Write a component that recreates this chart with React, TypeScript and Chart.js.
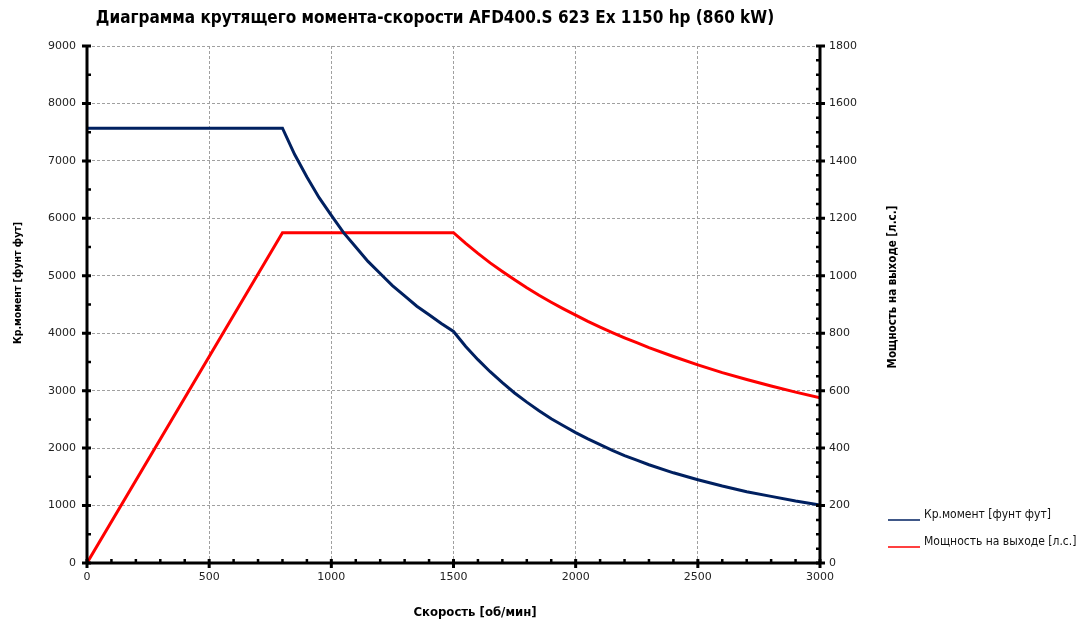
import { useEffect, useRef } from 'react';
import { Chart, registerables } from 'chart.js';

Chart.register(...registerables);

// speed points [rpm]
const speedRpm = [
  0, 800, 850, 900, 950, 1000, 1050, 1100, 1150, 1200, 1250, 1300, 1350, 1400, 1450, 1500,
  1550, 1600, 1650, 1700, 1750, 1800, 1850, 1900, 1950, 2000, 2050, 2100, 2150, 2200, 2250, 2300,
  2400, 2500, 2600, 2700, 2800, 2900, 3000,
];
// torque [lb-ft], left axis
const torqueLbFt = [
  7570, 7570, 7110, 6720, 6360, 6050, 5750, 5500, 5250, 5040, 4830, 4650, 4470, 4320, 4170, 4030,
  3770, 3540, 3330, 3140, 2960, 2800, 2650, 2510, 2390, 2270, 2160, 2060, 1960, 1870, 1790, 1710,
  1570, 1450, 1340, 1240, 1160, 1080, 1010,
];
// output power [hp], right axis
const powerHp = [
  0, 1150, 1150, 1150, 1150, 1150, 1150, 1150, 1150, 1150, 1150, 1150, 1150, 1150, 1150, 1150,
  1113, 1078, 1045, 1015, 986, 958, 932, 908, 885, 863, 841, 821, 802, 784, 767, 750,
  719, 690, 663, 639, 616, 595, 575,
];

const seriesNames = ['Кр.момент [фунт фут]', 'Мощность на выходе [л.с.]'];
const seriesColors = ['#002060', '#ff0000'];

const chartTitle = 'Диаграмма крутящего момента-скорости AFD400.S 623 Ex 1150 hp (860 kW)';
const xTitle = 'Скорость [об/мин]';

const NARROW = "'Liberation Sans Narrow', 'DejaVu Sans Condensed', sans-serif";
const TICK_FONT = { family: "'DejaVu Sans', sans-serif", size: 11 };

const decorPlugin = {
  id: 'decor',
  afterDraw(chart: any) {
    const { ctx, chartArea: a, scales } = chart;
    const x = scales.x, y = scales.y, y1 = scales.y1;
    ctx.save();
    ctx.strokeStyle = '#000';
    ctx.lineCap = 'butt';

    // axis lines
    ctx.lineWidth = 3;
    ctx.beginPath();
    ctx.moveTo(a.left, a.top - 1); ctx.lineTo(a.left, a.bottom + 1);
    ctx.moveTo(a.right, a.top - 1); ctx.lineTo(a.right, a.bottom + 1);
    ctx.moveTo(a.left - 1, a.bottom); ctx.lineTo(a.right + 1, a.bottom);
    ctx.stroke();

    // major ticks (crossing)
    ctx.beginPath();
    for (let v = 0; v <= 9000; v += 1000) {
      const p = y.getPixelForValue(v);
      ctx.moveTo(a.left - 5, p); ctx.lineTo(a.left + 4, p);
    }
    for (let v = 0; v <= 1800; v += 200) {
      const p = y1.getPixelForValue(v);
      ctx.moveTo(a.right - 4, p); ctx.lineTo(a.right + 5, p);
    }
    for (let v = 0; v <= 3000; v += 500) {
      const p = x.getPixelForValue(v);
      ctx.moveTo(p, a.bottom - 4); ctx.lineTo(p, a.bottom + 5);
    }
    ctx.stroke();

    // minor ticks (inward)
    ctx.lineWidth = 2.5;
    ctx.beginPath();
    for (let v = 500; v < 9000; v += 1000) {
      const p = y.getPixelForValue(v);
      ctx.moveTo(a.left, p); ctx.lineTo(a.left + 4, p);
    }
    for (let v = 50; v < 1800; v += 50) {
      if (v % 200 === 0) continue;
      const p = y1.getPixelForValue(v);
      ctx.moveTo(a.right - 4, p); ctx.lineTo(a.right, p);
    }
    for (let v = 100; v < 3000; v += 100) {
      if (v % 500 === 0) continue;
      const p = x.getPixelForValue(v);
      ctx.moveTo(p, a.bottom - 4); ctx.lineTo(p, a.bottom);
    }
    ctx.stroke();

    // title
    ctx.fillStyle = '#000';
    ctx.textAlign = 'center';
    ctx.textBaseline = 'middle';
    ctx.font = `bold 17px ${NARROW}`;
    ctx.fillText(chartTitle, 435, 19);

    // axis titles
    ctx.font = `bold 13px ${NARROW}`;
    ctx.fillText(xTitle, 475, 613);
    ctx.save();
    ctx.translate(18, 283);
    ctx.rotate(-Math.PI / 2);
    ctx.font = `bold 10.5px ${NARROW}`;
    ctx.fillText(seriesNames[0], 0, 0);
    ctx.restore();
    ctx.save();
    ctx.translate(893, 287);
    ctx.rotate(-Math.PI / 2);
    ctx.font = `bold 11.5px ${NARROW}`;
    ctx.fillText(seriesNames[1], 0, 0);
    ctx.restore();

    // legend
    ctx.textAlign = 'left';
    ctx.font = `12px ${NARROW}`;
    seriesNames.forEach((name, i) => {
      const ly = 520 + i * 27;
      ctx.strokeStyle = seriesColors[i];
      ctx.lineWidth = 1.5;
      ctx.beginPath();
      ctx.moveTo(888, ly); ctx.lineTo(920, ly);
      ctx.stroke();
      ctx.fillStyle = '#111';
      ctx.fillText(name, 924, ly - 5);
    });

    ctx.restore();
  },
};

const plainTick = (v: any) => String(v);

export default function App() {
  const chartRef = useRef<HTMLCanvasElement | null>(null);

  useEffect(() => {
    if (!chartRef.current) return;
    const gridDash = { color: '#a0a0a0', lineWidth: 1, drawTicks: false, tickLength: 0 };
    const chart = new Chart(chartRef.current, {
      type: 'line',
      data: {
        datasets: [
          {
            label: seriesNames[0],
            data: speedRpm.map((s, i) => ({ x: s, y: torqueLbFt[i] })),
            borderColor: seriesColors[0],
            backgroundColor: seriesColors[0],
            borderWidth: 3,
            pointRadius: 0,
            tension: 0,
            yAxisID: 'y',
          },
          {
            label: seriesNames[1],
            data: speedRpm.map((s, i) => ({ x: s, y: powerHp[i] })),
            borderColor: seriesColors[1],
            backgroundColor: seriesColors[1],
            borderWidth: 3,
            pointRadius: 0,
            tension: 0,
            yAxisID: 'y1',
          },
        ],
      },
      options: {
        animation: false,
        responsive: true,
        maintainAspectRatio: false,
        layout: { padding: { top: 46, left: 0, right: 189, bottom: 0 } },
        plugins: {
          legend: { display: false },
          title: { display: false },
          tooltip: { enabled: false },
        },
        scales: {
          x: {
            type: 'linear',
            min: 0,
            max: 3000,
            ticks: { stepSize: 500, color: '#222', font: TICK_FONT, padding: 8, maxRotation: 0, callback: plainTick },
            grid: gridDash,
            border: { display: false, dash: [3, 2] },
            afterFit: (s: any) => { s.height = 57; },
          },
          y: {
            type: 'linear',
            position: 'left',
            min: 0,
            max: 9000,
            ticks: { stepSize: 1000, color: '#222', font: TICK_FONT, padding: 11, callback: plainTick },
            grid: gridDash,
            border: { display: false, dash: [3, 2] },
            afterFit: (s: any) => { s.width = 87; },
          },
          y1: {
            type: 'linear',
            position: 'right',
            min: 0,
            max: 1800,
            ticks: { stepSize: 200, color: '#222', font: TICK_FONT, padding: 9, callback: plainTick },
            grid: { drawOnChartArea: false, drawTicks: false, tickLength: 0 },
            border: { display: false },
            afterFit: (s: any) => { s.width = 80; },
          },
        },
      },
      plugins: [decorPlugin],
    });
    return () => chart.destroy();
  }, []);

  return (
    <div style={{ position: 'fixed', left: 0, top: 0, width: 1089, height: 620, background: '#fff' }}>
      <canvas ref={chartRef}></canvas>
    </div>
  );
}
